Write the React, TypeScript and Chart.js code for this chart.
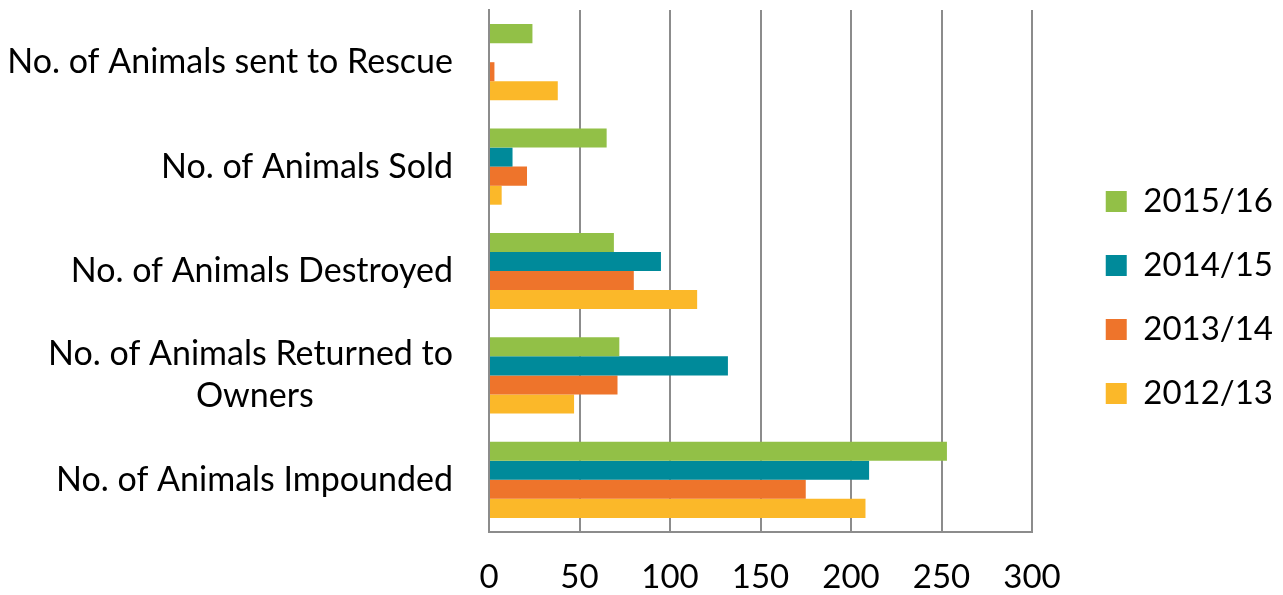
import React, { useEffect, useRef } from "react";
import { Chart, registerables } from "chart.js";

Chart.register(...registerables);

const categories: (string | string[])[] = [
  "No. of Animals sent to Rescue",
  "No. of Animals Sold",
  "No. of Animals Destroyed",
  ["No. of Animals Returned to", "Owners"],
  "No. of Animals Impounded",
];

const seriesLabels = ["2015/16", "2014/15", "2013/14", "2012/13"];
const values2015_16 = [24, 65, 69, 72, 253];
const values2014_15 = [0, 13, 95, 132, 210];
const values2013_14 = [3, 21, 80, 71, 175];
const values2012_13 = [38, 7, 115, 47, 208];
const seriesColors = ["#92C047", "#008A9A", "#EE742B", "#FBB829"];

const xMin = 0;
const xMax = 300;
const xStep = 50;

const FONT = "Lato";
const FONT_SIZE = 33;
const CAT_FONT_SIZE = 34;

function centerLines(lines: string[]): string[] {
  const c = document.createElement("canvas").getContext("2d")!;
  c.font = `${CAT_FONT_SIZE}px ${FONT}`;
  const widths = lines.map((l) => c.measureText(l).width);
  const maxW = Math.max(...widths);
  const sp = c.measureText(" ").width || 1;
  return lines.map((l, i) => {
    const n = Math.round((maxW - widths[i]) / 2 / sp);
    return l + " ".repeat(n);
  });
}

export default function App() {
  const ref = useRef<HTMLCanvasElement | null>(null);
  useEffect(() => {
    if (!ref.current) return;
    const data = [values2015_16, values2014_15, values2013_14, values2012_13];
    const chart = new Chart(ref.current, {
      type: "bar",
      data: {
        labels: categories as any,
        datasets: seriesLabels.map((lab, i) => ({
          label: lab,
          data: data[i],
          backgroundColor: seriesColors[i],
          borderWidth: 0,
          categoryPercentage: 0.73,
          barPercentage: 1,
        })),
      },
      options: {
        indexAxis: "y",
        animation: false,
        responsive: false,
        maintainAspectRatio: false,
        layout: { padding: { top: 0, left: 0, right: 0, bottom: 0 } },
        plugins: {
          tooltip: { enabled: false },
          legend: {
            position: "right",
            labels: {
              boxWidth: 21,
              boxHeight: 21,
              padding: 31,
              color: "#000",
              font: { family: FONT, size: FONT_SIZE },
            },
          },
        },
        scales: {
          x: {
            min: xMin,
            max: xMax,
            ticks: {
              stepSize: xStep,
              color: "#000",
              padding: 26,
              font: { family: FONT, size: FONT_SIZE },
            },
            grid: { color: "#8C8C8C", lineWidth: 2, drawTicks: false },
            border: { display: true, color: "#8C8C8C", width: 2 },
            afterFit: (s: any) => {
              s.height = 63;
            },
          },
          y: {
            ticks: {
              color: "#000",
              padding: 36,
              font: { family: FONT, size: CAT_FONT_SIZE, lineHeight: 1.24 },
              callback: function (this: any, _v: any, idx: number) {
                const lab = categories[idx];
                return Array.isArray(lab) ? centerLines(lab) : lab;
              },
            },
            grid: { display: false, drawTicks: false },
            border: { display: true, color: "#8C8C8C", width: 2 },
            afterFit: (s: any) => {
              s.width = 489;
              s.paddingTop = 10;
              s.paddingBottom = 0;
            },
          },
          pad: {
            type: "linear",
            position: "right",
            display: true,
            grid: { display: false, drawTicks: false },
            border: { display: false },
            ticks: { display: false },
            afterFit: (s: any) => {
              const lw = s.chart.legend && s.chart.legend.width ? s.chart.legend.width : 194;
              s.width = Math.max(0, 251 - lw);
              s.paddingTop = 0;
              s.paddingBottom = 0;
            },
          },
        },
      },
    });
    return () => chart.destroy();
  }, []);
  return (
    <div style={{ position: "fixed", left: 0, top: 0, width: 1283, height: 595, background: "#fff" }}>
      <canvas ref={ref} width={1283} height={595} style={{ width: 1283, height: 595, display: "block" }} />
    </div>
  );
}
